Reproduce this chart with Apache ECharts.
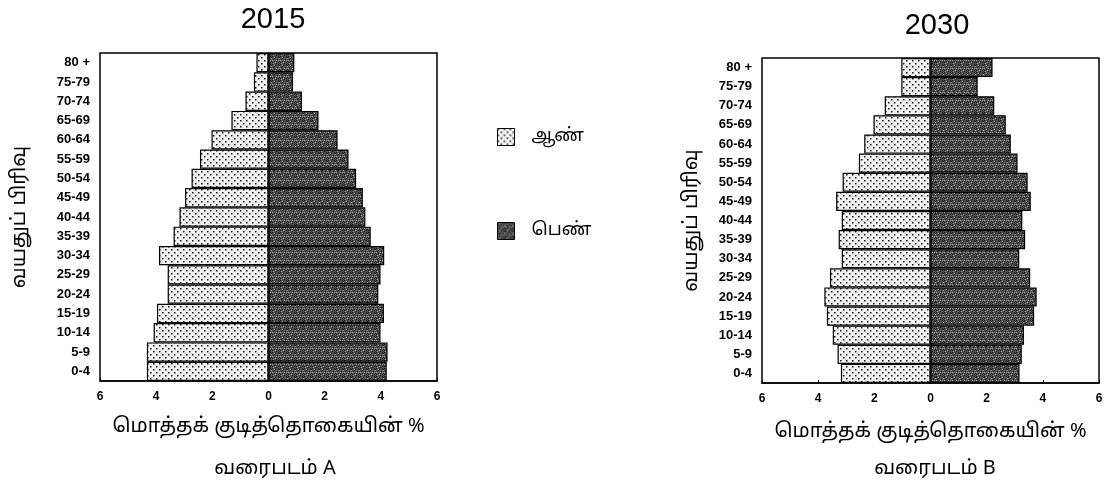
<!DOCTYPE html>
<html><head><meta charset="utf-8">
<script src="https://cdn.jsdelivr.net/npm/echarts@6/dist/echarts.min.js"></script>
<style>html,body{margin:0;padding:0;background:#fff}#c{width:1107px;height:500px}</style>
</head><body><div id="c"></div>
<script>
var ageGroups = ['0-4','5-9','10-14','15-19','20-24','25-29','30-34','35-39','40-44','45-49','50-54','55-59','60-64','65-69','70-74','75-79','80 +'];
var male2015   = [4.33,4.33,4.09,3.97,3.59,3.59,3.90,3.38,3.17,2.97,2.74,2.44,2.03,1.32,0.82,0.52,0.43];
var female2015 = [4.21,4.24,3.99,4.11,3.91,3.99,4.12,3.64,3.45,3.36,3.12,2.85,2.46,1.78,1.19,0.87,0.92];
var male2030   = [3.19,3.31,3.48,3.69,3.78,3.58,3.16,3.27,3.16,3.36,3.13,2.55,2.36,2.03,1.63,1.04,1.04];
var female2030 = [3.17,3.25,3.33,3.69,3.78,3.55,3.16,3.37,3.27,3.57,3.46,3.10,2.86,2.68,2.27,1.68,2.21];
var xTicks = [6,4,2,0,2,4,6];
var titles = ['2015','2030'];
var legendNames = ['ஆண்','பெண்'];
var yName = 'வயதுப் பிரிவு';
var xName = 'மொத்தக் குடித்தொகையின் %';
var captions = ['வரைபடம் A','வரைபடம் B'];

function neg(a){return a.map(function(v){return -v;});}

function dotPattern(){
  var c=document.createElement('canvas');c.width=6;c.height=6;
  var g=c.getContext('2d');g.fillStyle='#f2f2f2';g.fillRect(0,0,6,6);
  g.fillStyle='#111';g.fillRect(0,0,1.5,1.5);g.fillRect(3,3,1.5,1.5);
  return {image:c,repeat:'repeat'};
}
function speckPattern(){
  var c=document.createElement('canvas');c.width=8;c.height=8;
  var g=c.getContext('2d');g.fillStyle='#4e4e4e';g.fillRect(0,0,8,8);
  var dark=[[0,0],[3,1],[6,0],[1,3],[5,3],[2,5],[7,5],[0,6],[4,7],[6,6],[2,2],[7,1],[4,5]];
  var light=[[2,1],[7,2],[4,4],[0,4],[6,4],[3,6],[1,7]];
  g.fillStyle='#151515';dark.forEach(function(p){g.fillRect(p[0],p[1],1,1);});
  g.fillStyle='#a0a0a0';light.forEach(function(p){g.fillRect(p[0],p[1],1,1);});
  return {image:c,repeat:'repeat'};
}
var maleFill=dotPattern(), femaleFill=speckPattern();
var FF='"Noto Sans Tamil","Noto Sans","DejaVu Sans",sans-serif';
var LF='"Liberation Sans",Arial,sans-serif';
var NF='"Liberation Sans Narrow","Arial Narrow","Liberation Sans",sans-serif';

function xAxis(gi,gap){
  return {gridIndex:gi,type:'value',min:-6,max:6,interval:2,
    axisLine:{show:true,lineStyle:{color:'#000',width:1.5}},
    axisTick:{show:true,inside:true,length:3,lineStyle:{color:'#000'}},
    splitLine:{show:false},
    axisLabel:{formatter:function(v){return Math.abs(v);},color:'#000',fontWeight:'bold',fontSize:12,fontFamily:LF,margin:10},
    name:xName,nameLocation:'middle',nameGap:gap,
    nameTextStyle:{color:'#000',fontSize:20,fontFamily:FF}};
}
function yAxis(gi,gap){
  return {gridIndex:gi,type:'category',data:ageGroups,
    axisLine:{show:true,lineStyle:{color:'#000',width:1.5}},
    axisTick:{show:false},
    axisLabel:{color:'#000',fontWeight:'bold',fontSize:13,fontFamily:NF,margin:10},
    name:yName,nameLocation:'middle',nameGap:gap,nameRotate:90,
    nameTextStyle:{color:'#000',fontSize:20,fontFamily:FF}};
}
function ser(name,data,gi,fill){
  return {name:name,type:'bar',stack:'s'+gi,xAxisIndex:gi,yAxisIndex:gi,data:data,
    barCategoryGap:'0%',barWidth:'100%',
    itemStyle:{color:fill,borderColor:'#000',borderWidth:1.2},
    emphasis:{disabled:true}};
}

var chart=echarts.init(document.getElementById('c'));
chart.setOption({
  animation:false,
  backgroundColor:'#fff',
  title:[
    {text:titles[0],left:268,top:0,textAlign:'center',textStyle:{fontSize:29,fontWeight:'normal',color:'#000',fontFamily:LF}},
    {text:titles[1],left:932,top:6,textAlign:'center',textStyle:{fontSize:29,fontWeight:'normal',color:'#000',fontFamily:LF}},
    {text:captions[0],left:270,top:455,textAlign:'center',textStyle:{fontSize:20,fontWeight:'normal',color:'#000',fontFamily:FF}},
    {text:captions[1],left:930,top:455,textAlign:'center',textStyle:{fontSize:20,fontWeight:'normal',color:'#000',fontFamily:FF}}
  ],
  legend:{orient:'vertical',left:492,top:123,itemGap:76,itemWidth:17,itemHeight:17,icon:'rect',
    data:legendNames,selectedMode:false,
    itemStyle:{borderColor:'#000',borderWidth:1},
    textStyle:{fontSize:18,color:'#000',fontFamily:FF,padding:[0,0,0,12]}},
  grid:[
    {left:100,right:670,top:53,bottom:119,show:true,borderColor:'#000',borderWidth:1.5,backgroundColor:'#fff'},
    {left:762,right:8,top:58,bottom:117,show:true,borderColor:'#000',borderWidth:1.5,backgroundColor:'#fff'}
  ],
  xAxis:[xAxis(0,37),xAxis(1,40)],
  yAxis:[yAxis(0,69),yAxis(1,59)],
  series:[
    ser(legendNames[0],neg(male2015),0,maleFill),
    ser(legendNames[1],female2015,0,femaleFill),
    ser(legendNames[0],neg(male2030),1,maleFill),
    ser(legendNames[1],female2030,1,femaleFill)
  ]
});
</script></body></html>
